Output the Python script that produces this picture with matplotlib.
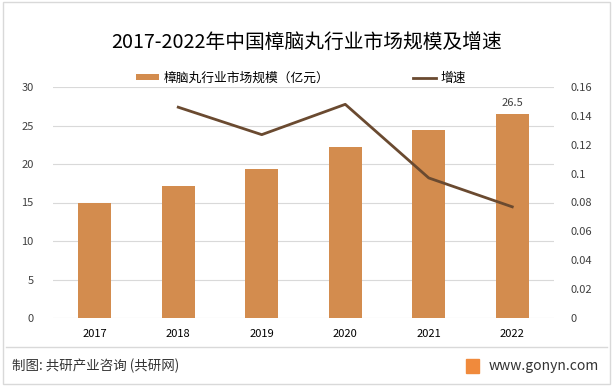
import numpy as np
import matplotlib.pyplot as plt
from matplotlib.patches import Rectangle

plt.rcParams['font.family'] = ['Noto Sans CJK SC', 'DejaVu Sans']

years = ['2017', '2018', '2019', '2020', '2021', '2022']
market = [15.0, 17.2, 19.4, 22.2, 24.4, 26.5]
growth_years = ['2018', '2019', '2020', '2021', '2022']
growth = [0.146, 0.127, 0.148, 0.097, 0.077]

bar_color = '#D38C4E'
line_color = '#6A4A30'

fig = plt.figure(figsize=(6.13, 3.86), dpi=100)
fig.patches.append(Rectangle((0.005, 0.005), 0.99, 0.99, transform=fig.transFigure,
                             fill=False, edgecolor='#D9D9D9', linewidth=1))

ax = fig.add_axes([53/613, 1-318/386, 501/613, 231/386])
x = np.arange(len(years))
ax.bar(x, market, width=0.4, color=bar_color, zorder=2, label='樟脑丸行业市场规模（亿元）')
ax.text(x[-1], market[-1] + 0.8, '26.5', ha='center', va='bottom', fontsize=8, color='#404040')
ax.set_xlim(-0.5, len(years) - 0.5)
ax.set_ylim(0, 30)
ax.set_yticks(range(0, 31, 5))
ax.set_xticks(x)
ax.set_xticklabels(years)
ax.grid(axis='y', color='#D9D9D9', linewidth=0.8, zorder=0)
for s in ax.spines.values():
    s.set_visible(False)
ax.tick_params(length=0, labelsize=8, colors='#404040', pad=14)
ax.tick_params(axis='x', pad=8, colors='black')

ax2 = ax.twinx()
gx = [years.index(y) for y in growth_years]
ax2.plot(gx, growth, color=line_color, linewidth=2, label='增速')
ax2.set_ylim(0, 0.16)
ax2.set_yticks(np.arange(0, 0.161, 0.02))
ax2.set_yticklabels(['0', '0.02', '0.04', '0.06', '0.08', '0.1', '0.12', '0.14', '0.16'])
for s in ax2.spines.values():
    s.set_visible(False)
ax2.tick_params(length=0, labelsize=8, colors='#404040', pad=12)

fig.text(0.5, 1-42/386, '2017-2022年中国樟脑丸行业市场规模及增速', ha='center', va='center', fontsize=14.2)

h1, l1 = ax.get_legend_handles_labels()
h2, l2 = ax2.get_legend_handles_labels()
fig.legend(h1 + h2, l1 + l2, loc='center', bbox_to_anchor=(301/613, 1-78/386), ncol=2,
           frameon=False, fontsize=9.2, handlelength=1.8, handleheight=0.45,
           columnspacing=6.5, handletextpad=0.35)

fig.add_artist(plt.Line2D([0.01, 0.99], [1-347/386, 1-347/386], color='#D9D9D9', linewidth=1))
fig.text(12/613, 1-366/386, '制图: 共研产业咨询 (共研网)', ha='left', va='center', fontsize=9.7, color='#333333')
fig.patches.append(Rectangle((466/613, 1-373/386), 13/613, 14/386, transform=fig.transFigure,
                             color='#F08A3C'))
fig.text(599/613, 1-366/386, 'www.gonyn.com', ha='right', va='center', fontsize=10, color='#333333')

fig.savefig('out.png', dpi=100)
